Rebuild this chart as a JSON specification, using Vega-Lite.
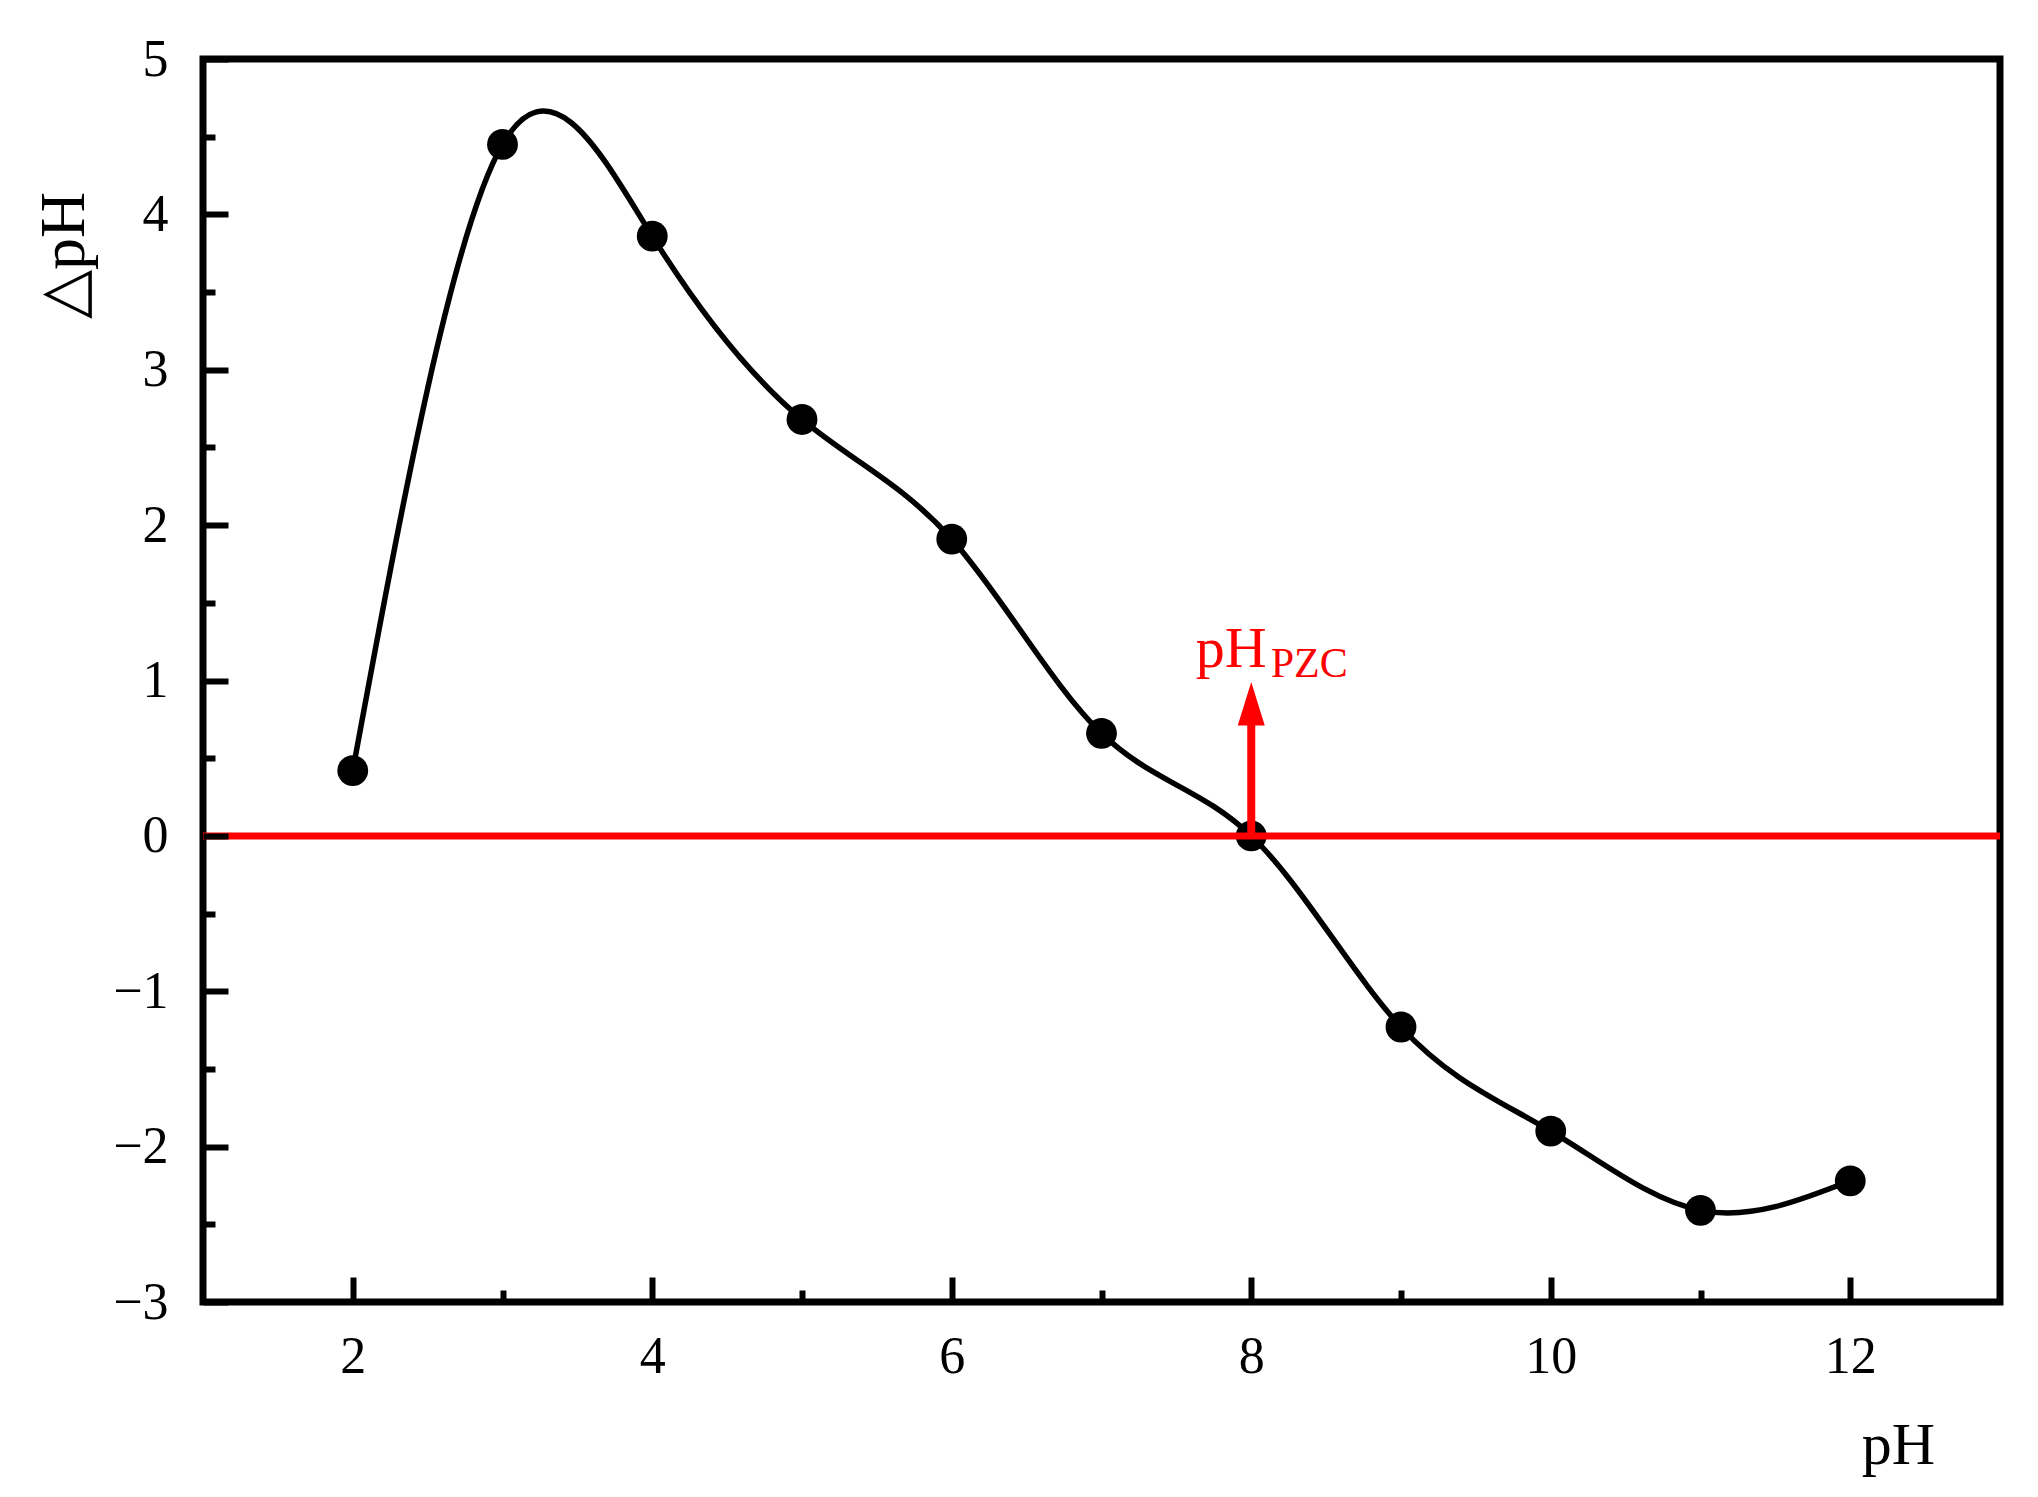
{
  "$schema": "https://vega.github.io/schema/vega-lite/v6.json",
  "width": 1797,
  "height": 1243,
  "autosize": "none",
  "padding": {"left": 203, "top": 59, "right": 38, "bottom": 195},
  "background": "white",
  "config": {
    "view": {"stroke": "black", "strokeWidth": 7},
    "font": "Liberation Serif"
  },
  "datasets": {
    "pts": [
      {"pH": 2, "dpH": 0.42},
      {"pH": 3, "dpH": 4.45},
      {"pH": 4, "dpH": 3.86},
      {"pH": 5, "dpH": 2.68},
      {"pH": 6, "dpH": 1.91},
      {"pH": 7, "dpH": 0.66},
      {"pH": 8, "dpH": 0.0},
      {"pH": 9, "dpH": -1.23},
      {"pH": 10, "dpH": -1.9},
      {"pH": 11, "dpH": -2.41},
      {"pH": 12, "dpH": -2.22}
    ],
    "one": [{"k": 1}]
  },
  "layer": [
    {
      "data": {"name": "pts"},
      "mark": {"type": "line", "interpolate": "natural", "color": "black", "strokeWidth": 5.5},
      "encoding": {
        "x": {
          "field": "pH", "type": "quantitative",
          "scale": {"domain": [1, 13], "nice": false, "zero": false},
          "axis": {
            "values": [2, 3, 4, 5, 6, 7, 8, 9, 10, 11, 12],
            "format": "~g",
            "labelExpr": "datum.value % 2 === 0 ? datum.label : ''",
            "tickSize": {"condition": {"test": "datum.value % 2 !== 0", "value": -12}, "value": -25},
            "tickWidth": 6, "tickColor": "black",
            "domain": false, "grid": false,
            "labelFont": "Liberation Serif", "labelFontSize": 52, "labelColor": "black",
            "labelPadding": 54,
            "title": "pH", "titleFont": "Liberation Serif", "titleFontSize": 60, "titleFontWeight": "normal", "titleColor": "black",
            "titleX": 1695, "titleY": 161, "titleAlign": "center", "titleBaseline": "alphabetic", "titleAnchor": null,
            "zindex": 1
          }
        },
        "y": {
          "field": "dpH", "type": "quantitative",
          "scale": {"domain": [-3, 5], "nice": false, "zero": false},
          "axis": {
            "values": [-3, -2.5, -2, -1.5, -1, -0.5, 0, 0.5, 1, 1.5, 2, 2.5, 3, 3.5, 4, 4.5, 5],
            "format": "~g",
            "labelExpr": "datum.value % 1 === 0 ? datum.label : ''",
            "tickSize": {"condition": {"test": "datum.value % 1 !== 0", "value": -12}, "value": -25},
            "tickWidth": 6, "tickColor": "black",
            "domain": false, "grid": false,
            "labelFont": "Liberation Serif", "labelFontSize": 52, "labelColor": "black",
            "labelPadding": 60,
            "title": "△pH", "titleFont": "Liberation Serif", "titleFontSize": 64, "titleFontWeight": "normal", "titleColor": "black",
            "titleAngle": 270,
            "titleX": -120, "titleY": 196, "titleAlign": "center", "titleBaseline": "alphabetic", "titleAnchor": null,
            "zindex": 1
          }
        }
      }
    },
    {
      "data": {"name": "pts"},
      "mark": {"type": "point", "filled": true, "shape": "circle", "color": "black", "size": 950, "opacity": 1},
      "encoding": {
        "x": {"field": "pH", "type": "quantitative"},
        "y": {"field": "dpH", "type": "quantitative"}
      }
    },
    {
      "data": {"name": "one"},
      "mark": {"type": "rule", "color": "#ff0000", "strokeWidth": 7},
      "encoding": {
        "x": {"datum": 1, "type": "quantitative"},
        "x2": {"datum": 13},
        "y": {"datum": 0, "type": "quantitative"}
      }
    },
    {
      "data": {"name": "one"},
      "mark": {"type": "rule", "color": "#ff0000", "strokeWidth": 8},
      "encoding": {
        "x": {"datum": 8, "type": "quantitative"},
        "y": {"datum": 0, "type": "quantitative"},
        "y2": {"datum": 0.73}
      }
    },
    {
      "data": {"name": "one"},
      "mark": {"type": "point", "filled": true, "shape": "M0,-1L0.62,1L-0.62,1Z", "color": "#ff0000", "size": 1900, "opacity": 1},
      "encoding": {
        "x": {"datum": 8, "type": "quantitative"},
        "y": {"datum": 0.85, "type": "quantitative"}
      }
    },
    {
      "data": {"name": "one"},
      "mark": {"type": "text", "text": "pH", "color": "#ff0000", "font": "Liberation Serif", "fontSize": 58, "align": "left", "baseline": "alphabetic"},
      "encoding": {
        "x": {"datum": 7.63, "type": "quantitative"},
        "y": {"datum": 1.087, "type": "quantitative"}
      }
    },
    {
      "data": {"name": "one"},
      "mark": {"type": "text", "text": "PZC", "color": "#ff0000", "font": "Liberation Serif", "fontSize": 42, "align": "left", "baseline": "alphabetic"},
      "encoding": {
        "x": {"datum": 8.13, "type": "quantitative"},
        "y": {"datum": 1.02, "type": "quantitative"}
      }
    }
  ]
}
